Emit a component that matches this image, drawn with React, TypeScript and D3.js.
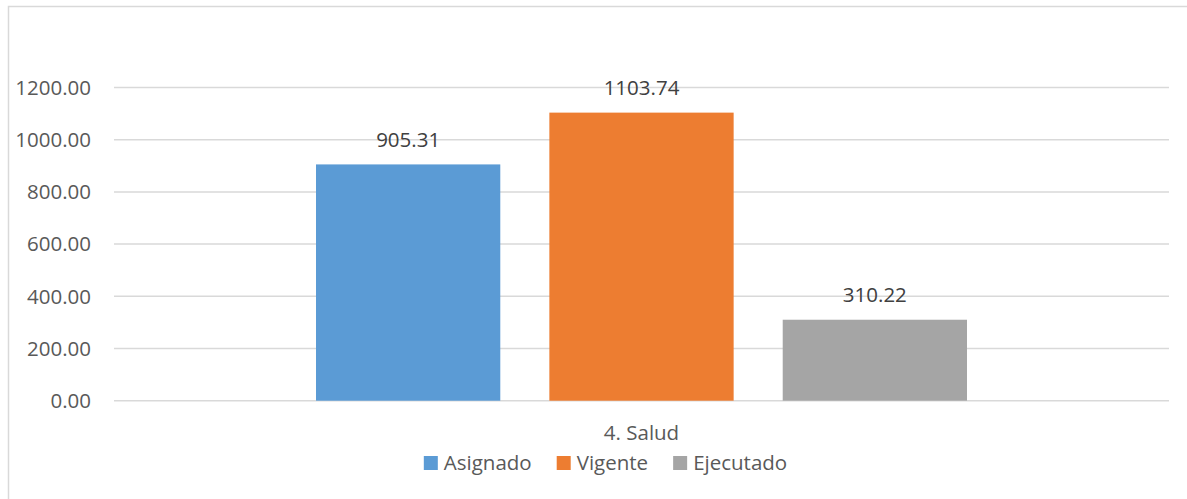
import { useRef, useEffect } from "react";
import { select, scaleBand, scaleLinear, range } from "d3";

// Chart data
const categories = ["4. Salud"];
const seriesNames = ["Asignado", "Vigente", "Ejecutado"];
const seriesValues = [[905.31], [1103.74], [310.22]];
const yTicks = [0, 200, 400, 600, 800, 1000, 1200];
const seriesColors = ["#5B9BD5", "#ED7D31", "#A5A5A5"];

const W = 1187;
const H = 499;
const FONT = "'Open Sans', 'Noto Sans', sans-serif";
const FS = 20.5;

const App = () => {
    const svgRef = useRef(null);

    useEffect(() => {
        document.body.style.margin = "0";
        document.body.style.overflow = "hidden";

        const svg = select(svgRef.current);
        svg.selectAll("*").remove();

        // Chart frame (extends past the right and bottom of the window)
        svg.append("rect")
            .attr("x", 8.5).attr("y", 6.5)
            .attr("width", 1220).attr("height", 520)
            .attr("fill", "#fff").attr("stroke", "#d9d9d9").attr("stroke-width", 1.5);

        const plotLeft = 114;
        const plotRight = 1169;

        const yScale = scaleLinear().domain([0, 1200]).range([400.7, 87.5]);

        const x0 = scaleBand().domain(categories).range([plotLeft, plotRight])
            .paddingInner(0).paddingOuter(0.3103);
        const x1 = scaleBand().domain(seriesNames).range([0, x0.bandwidth()])
            .paddingInner(0.2103).paddingOuter(0);

        // Gridlines
        svg.append("g").selectAll("line")
            .data(yTicks)
            .join("line")
            .attr("x1", plotLeft).attr("x2", plotRight)
            .attr("y1", d => yScale(d)).attr("y2", d => yScale(d))
            .attr("stroke", "#d9d9d9").attr("stroke-width", 1.5);

        // Y tick labels
        svg.append("g").selectAll("text")
            .data(yTicks)
            .join("text")
            .attr("x", 91).attr("y", d => yScale(d))
            .attr("dy", "0.36em")
            .attr("text-anchor", "end")
            .attr("font-family", FONT).attr("font-size", FS).attr("fill", "#595959")
            .text(d => d.toFixed(2));

        // Bars
        const bars = categories.flatMap((c, ci) =>
            seriesNames.map((s, si) => ({ c, s, si, v: seriesValues[si][ci] })));

        svg.append("g").selectAll("rect")
            .data(bars)
            .join("rect")
            .attr("x", d => x0(d.c) + x1(d.s))
            .attr("y", d => yScale(d.v))
            .attr("width", x1.bandwidth())
            .attr("height", d => yScale(0) - yScale(d.v))
            .attr("fill", d => seriesColors[d.si]);

        // Value labels
        svg.append("g").selectAll("text")
            .data(bars)
            .join("text")
            .attr("x", d => x0(d.c) + x1(d.s) + x1.bandwidth() / 2)
            .attr("y", d => yScale(d.v) - 25)
            .attr("dy", "0.36em")
            .attr("text-anchor", "middle")
            .attr("font-family", FONT).attr("font-size", FS).attr("fill", "#404040")
            .text(d => d.v.toFixed(2));

        // Category labels
        svg.append("g").selectAll("text")
            .data(categories)
            .join("text")
            .attr("x", d => x0(d) + x0.bandwidth() / 2)
            .attr("y", 433)
            .attr("dy", "0.36em")
            .attr("text-anchor", "middle")
            .attr("font-family", FONT).attr("font-size", FS).attr("fill", "#595959")
            .text(d => d);

        // Legend, centered on the chart frame
        const legend = svg.append("g");
        const items = legend.selectAll("g")
            .data(seriesNames)
            .join("g");
        items.append("rect")
            .attr("width", 14).attr("height", 14)
            .attr("y", 463 - 7)
            .attr("fill", (d, i) => seriesColors[i]);
        const texts = items.append("text")
            .attr("x", 20).attr("y", 463)
            .attr("dy", "0.36em")
            .attr("font-family", FONT).attr("font-size", FS).attr("fill", "#595959")
            .text(d => d);

        const widths = texts.nodes().map(n => 20 + n.getComputedTextLength());
        const gap = 25;
        const total = widths.reduce((a, b) => a + b, 0) + gap * (widths.length - 1);
        let cursor = 605.5 - total / 2;
        const offsets = range(widths.length).map(i => {
            const o = cursor;
            cursor += widths[i] + gap;
            return o;
        });
        items.attr("transform", (d, i) => `translate(${offsets[i]},0)`);
    }, []);

    return (
        <div style={{ position: "absolute", left: 0, top: 0 }}>
            <svg ref={svgRef} width={W} height={H} style={{ display: "block" }}></svg>
        </div>
    );
};

export default App;
